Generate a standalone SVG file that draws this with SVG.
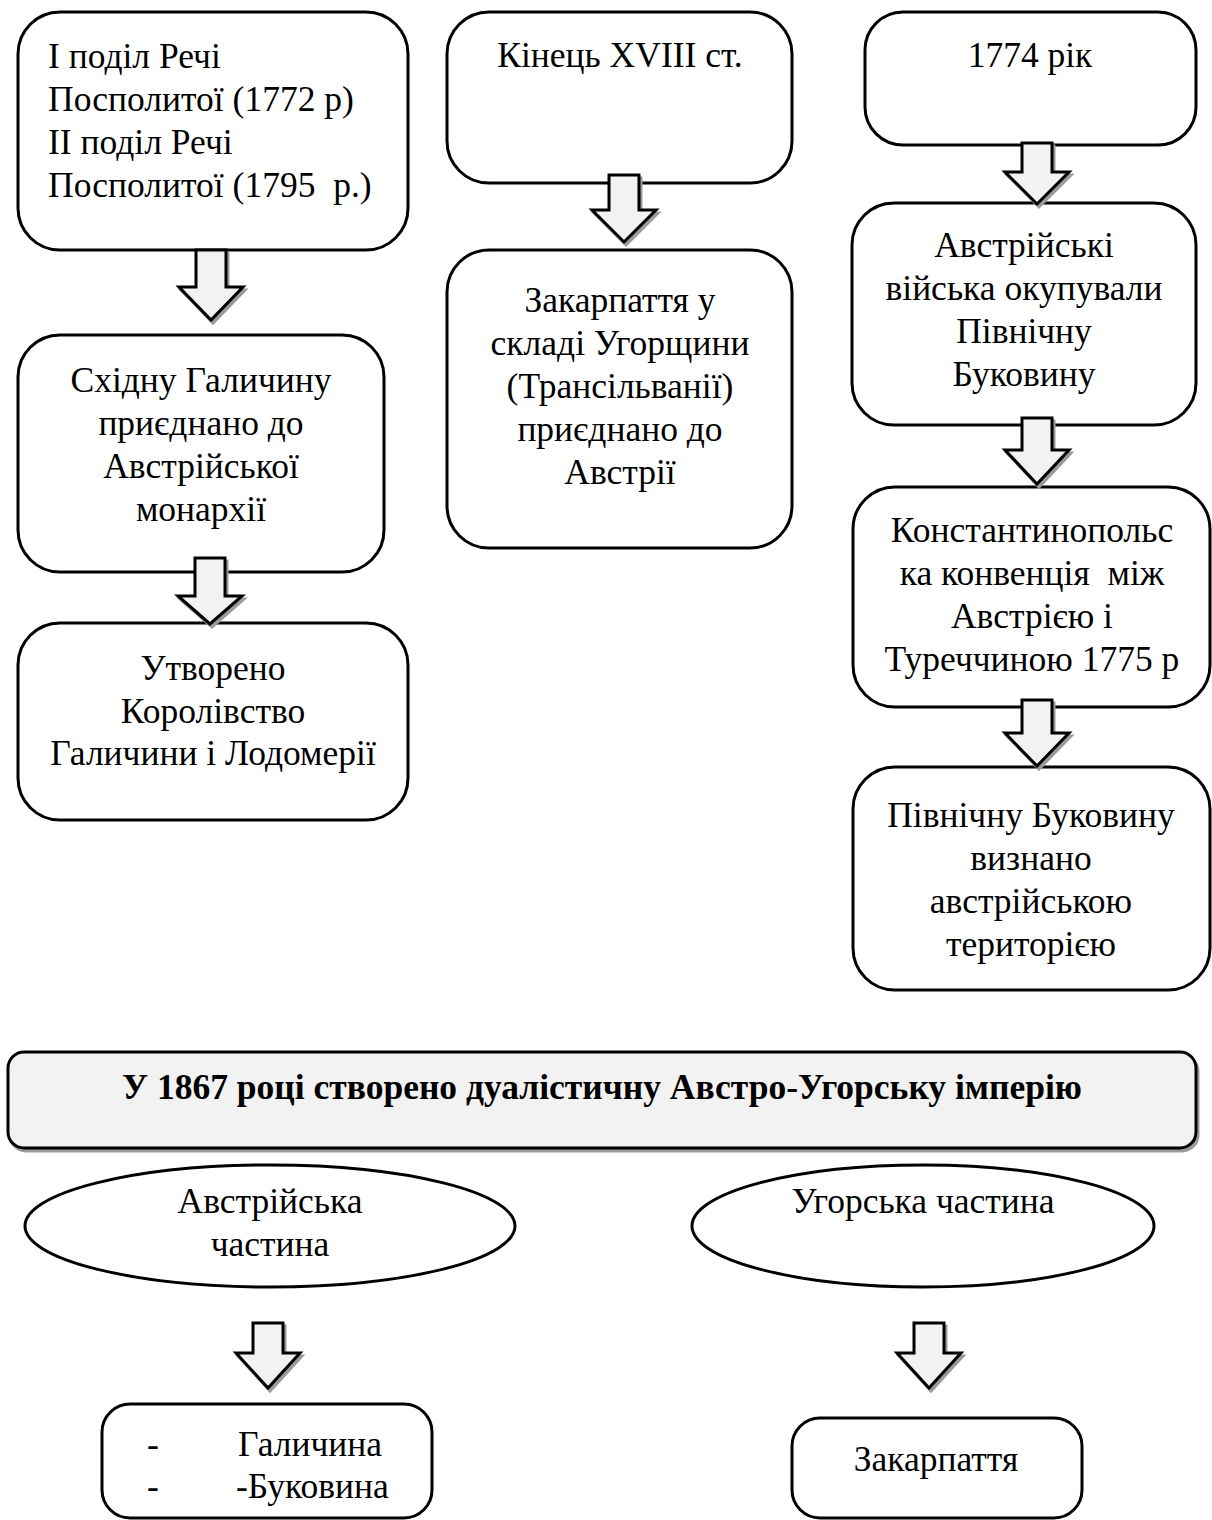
<svg xmlns="http://www.w3.org/2000/svg" width="1212" height="1520" viewBox="0 0 1212 1520">
<style>
.box{fill:#fff;stroke:#000;stroke-width:3}
.ban{fill:#f2f2f2;stroke:#000;stroke-width:3}
.sh{fill:#9a9a9a;stroke:#9a9a9a;stroke-width:3}
.arr{fill:#f2f2f2;stroke:#000;stroke-width:3;stroke-linejoin:miter}
text{font-family:"Liberation Serif","Times New Roman",serif;font-size:35.5px;fill:#000}
.c{text-anchor:middle}
.b{font-weight:bold;font-size:35.5px}
.pre{white-space:pre}
</style>
<rect width="1212" height="1520" fill="#fff"/>

<g id="nodeA1">
<rect class="box" x="18" y="12" width="390" height="238" rx="42"/>
<text x="48" y="68">І поділ Речі</text>
<text x="48" y="111">Посполитої (1772 р)</text>
<text x="48" y="154">ІІ поділ Речі</text>
<text x="48" y="197" class="pre">Посполитої (1795  р.)</text>
</g>
<g id="nodeA2">
<rect class="box" x="18" y="335" width="366" height="237" rx="42"/>
<text class="c" x="201" y="392">Східну Галичину</text>
<text class="c" x="201" y="435">приєднано до</text>
<text class="c" x="201" y="478">Австрійської</text>
<text class="c" x="201" y="521">монархії</text>
</g>
<g id="nodeA3">
<rect class="box" x="18" y="623" width="390" height="197" rx="42"/>
<text class="c" x="213" y="680">Утворено</text>
<text class="c" x="213" y="723">Королівство</text>
<text class="c" x="213" y="765">Галичини і Лодомерії</text>
</g>
<g id="nodeB1">
<rect class="box" x="447" y="12" width="345" height="171" rx="42"/>
<text class="c" x="620" y="67">Кінець XVIII ст.</text>
</g>
<g id="nodeB2">
<rect class="box" x="447" y="250" width="345" height="298" rx="42"/>
<text class="c" x="620" y="312">Закарпаття у</text>
<text class="c" x="620" y="355">складі Угорщини</text>
<text class="c" x="620" y="398">(Трансільванії)</text>
<text class="c" x="620" y="441">приєднано до</text>
<text class="c" x="620" y="484">Австрії</text>
</g>
<g id="nodeC1">
<rect class="box" x="865" y="12" width="331" height="133" rx="38"/>
<text class="c" x="1030" y="67">1774 рік</text>
</g>
<g id="nodeC2">
<rect class="box" x="852" y="203" width="344" height="222" rx="42"/>
<text class="c" x="1024" y="257">Австрійські</text>
<text class="c" x="1024" y="300">війська окупували</text>
<text class="c" x="1024" y="343">Північну</text>
<text class="c" x="1024" y="386">Буковину</text>
</g>
<g id="nodeC3">
<rect class="box" x="853" y="487" width="357" height="220" rx="42"/>
<text class="c" x="1032" y="542">Константинопольс</text>
<text class="c pre" x="1032" y="585">ка конвенція  між</text>
<text class="c" x="1032" y="628">Австрією і</text>
<text class="c" x="1032" y="671">Туреччиною 1775 р</text>
</g>
<g id="nodeC4">
<rect class="box" x="853" y="767" width="357" height="223" rx="42"/>
<text class="c" x="1031" y="827">Північну Буковину</text>
<text class="c" x="1031" y="870">визнано</text>
<text class="c" x="1031" y="913">австрійською</text>
<text class="c" x="1031" y="956">територією</text>
</g>
<g id="nodeBanner">
<rect class="sh" x="10" y="1055" width="1188" height="96" rx="16"/>
<rect class="ban" x="8" y="1052" width="1188" height="96" rx="16"/>
<text class="c b" x="602" y="1099">У 1867 році створено дуалістичну Австро-Угорську імперію</text>
</g>
<g id="nodeE1">
<ellipse class="box" cx="270" cy="1226" rx="245" ry="61"/>
<text class="c" x="270" y="1213">Австрійська</text>
<text class="c" x="270" y="1256">частина</text>
</g>
<g id="nodeE2">
<ellipse class="box" cx="923" cy="1226" rx="231" ry="61"/>
<text class="c" x="923" y="1213">Угорська частина</text>
</g>
<g id="nodeD1">
<rect class="box" x="102" y="1404" width="330" height="114" rx="28"/>
<text x="147" y="1456">-</text>
<text x="238" y="1456">Галичина</text>
<text x="147" y="1498">-</text>
<text x="236" y="1498">-Буковина</text>
</g>
<g id="nodeD2">
<rect class="box" x="792" y="1418" width="290" height="100" rx="28"/>
<text class="c" x="936" y="1471">Закарпаття</text>
</g>

<g id="connectors">
<g transform="translate(2,3)">
<polygon class="sh" points="196,250 226,250 226,287 243,287 211,320 179,287 196,287"/>
<polygon class="sh" points="195,558 225,558 225,596 242,596 210,624 178,596 195,596"/>
<polygon class="sh" points="609,175 639,175 639,210 656,210 624,242 592,210 609,210"/>
<polygon class="sh" points="1022,143 1052,143 1052,172 1069,172 1037,204 1005,172 1022,172"/>
<polygon class="sh" points="1022,418 1052,418 1052,450 1069,450 1037,484 1005,450 1022,450"/>
<polygon class="sh" points="1022,700 1052,700 1052,733 1069,733 1037,766 1005,733 1022,733"/>
<polygon class="sh" points="253,1323 283,1323 283,1353 300,1353 268,1388 236,1353 253,1353"/>
<polygon class="sh" points="914,1323 944,1323 944,1353 961,1353 929,1388 897,1353 914,1353"/>
</g>
<polygon class="arr" points="196,250 226,250 226,287 243,287 211,320 179,287 196,287"/>
<polygon class="arr" points="195,558 225,558 225,596 242,596 210,624 178,596 195,596"/>
<polygon class="arr" points="609,175 639,175 639,210 656,210 624,242 592,210 609,210"/>
<polygon class="arr" points="1022,143 1052,143 1052,172 1069,172 1037,204 1005,172 1022,172"/>
<polygon class="arr" points="1022,418 1052,418 1052,450 1069,450 1037,484 1005,450 1022,450"/>
<polygon class="arr" points="1022,700 1052,700 1052,733 1069,733 1037,766 1005,733 1022,733"/>
<polygon class="arr" points="253,1323 283,1323 283,1353 300,1353 268,1388 236,1353 253,1353"/>
<polygon class="arr" points="914,1323 944,1323 944,1353 961,1353 929,1388 897,1353 914,1353"/>
</g>
</svg>
